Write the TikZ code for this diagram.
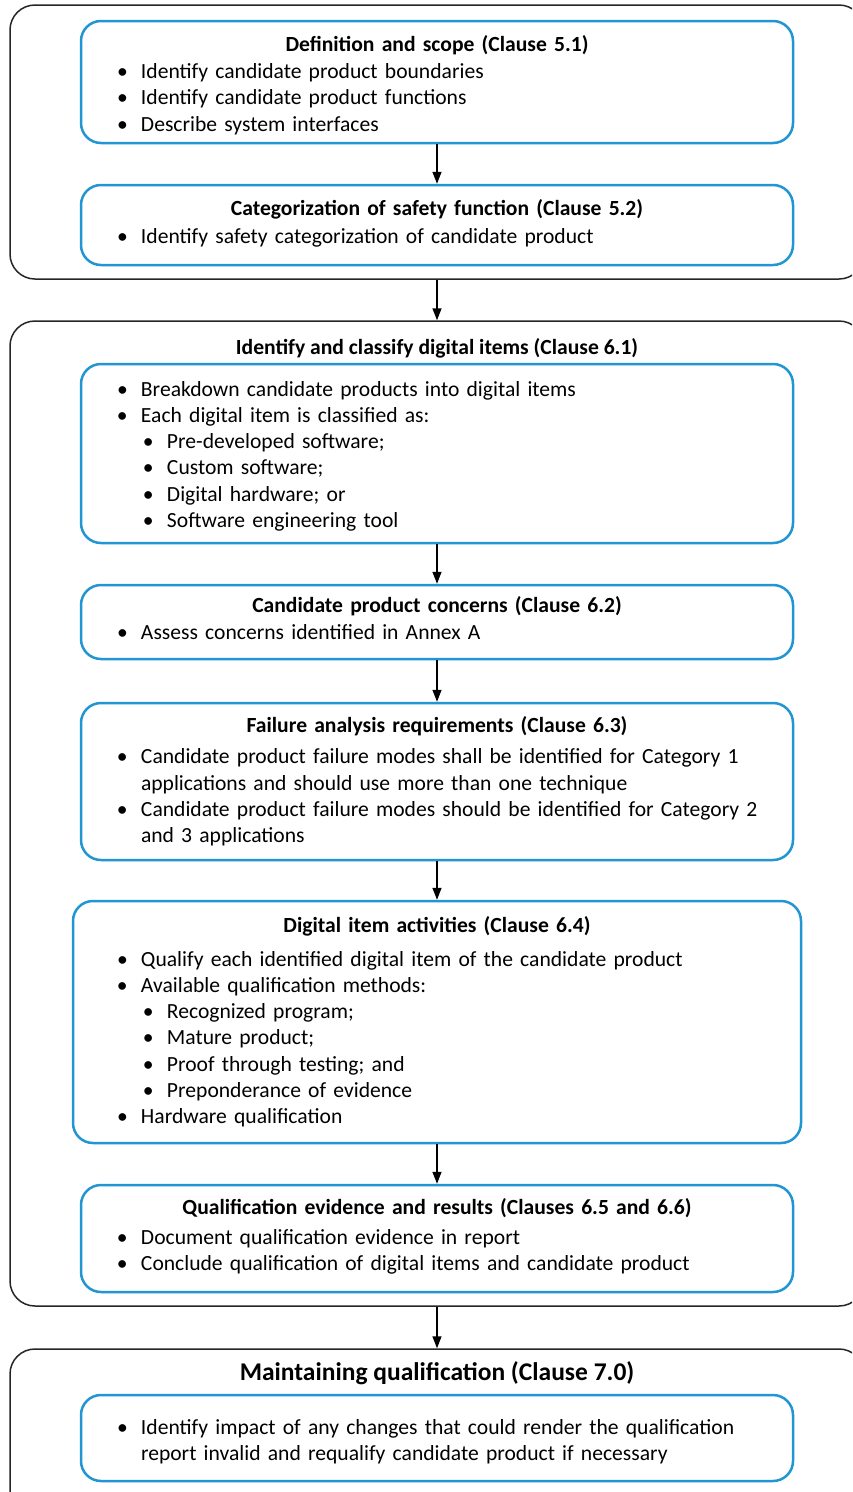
\documentclass[tikz,border=0pt]{standalone}
\usepackage{fontspec}
\setmainfont{Carlito}
\usepackage{tikz}
\usetikzlibrary{arrows.meta}
\definecolor{boxblue}{RGB}{33,150,210}
\newcommand{\itm}[1]{\par\hangindent=60pt\hangafter=1\noindent\hspace*{36pt}\makebox[24pt][l]{\textbullet}#1\par}
\newcommand{\subitm}[1]{\par\hangindent=86pt\hangafter=1\noindent\hspace*{62pt}\makebox[24pt][l]{\textbullet}#1\par}
\newcommand{\nextline}{\hfill\break}
\newcommand{\boxtitle}[1]{{\centering\bfseries #1\par}}
\newcommand{\bottomgap}[1]{\par\vspace{#1}\hrule height 0pt\relax}

\begin{document}
\begin{tikzpicture}[x=1pt,y=-1pt,
    outer/.style={draw=black!85,line width=1.5pt,rounded corners=25pt,minimum width=854pt,inner sep=0pt},
    step box/.style={draw=boxblue,line width=2.5pt,rounded corners=20pt,text width=712pt,
      inner xsep=0pt,inner ysep=0pt,font=\fontsize{21.6}{26.3}\selectfont},
    flow/.style={-{Triangle[length=12pt,width=9pt]},line width=1.5pt}]
        \useasboundingbox (0,0) rectangle (852,1492);
        \clip (0,0) rectangle (852,1492);
        \fill[white] (0,0) rectangle (852,1492);

        \node[outer,minimum height=274pt] (O1) at (437,142) {};
        \node[outer,minimum height=985pt] (O2) at (437,813.5) {};
        \node[outer,minimum height=171pt] (O3) at (437,1434.5) {};

        \node[font=\fontsize{21.6}{26.3}\selectfont\bfseries] (T2) at (437,348)
          {Identify and classify digital items (Clause 6.1)};
        \node[font=\fontsize{25.5}{30}\selectfont\bfseries] (T3) at (437,1373)
          {Maintaining qualification (Clause 7.0)};

        \node[step box,minimum height=122pt] (B1) at (437,82) {%
          \boxtitle{\rule{0pt}{22pt}Definition and scope (Clause 5.1)}
          \vspace{1pt}
          \itm{Identify candidate product boundaries}
          \itm{Identify candidate product functions}
          \itm{Describe system interfaces}};
        \node[step box,minimum height=80pt] (B2) at (437,225) {%
          \boxtitle{Categorization of safety function (Clause 5.2)}
          \vspace{2pt}
          \itm{Identify safety categorization of candidate product}
          \bottomgap{4pt}};
        \node[step box,minimum height=179pt] (B3) at (437,453.5) {%
          \itm{Breakdown candidate products into digital items}
          \itm{Each digital item is classified as:}
          \subitm{Pre-developed software;}
          \subitm{Custom software;}
          \subitm{Digital hardware; or}
          \subitm{Software engineering tool}
          \bottomgap{6pt}};
        \node[step box,minimum height=74pt] (B4) at (437,622) {%
          \boxtitle{Candidate product concerns (Clause 6.2)}
          \itm{Assess concerns identified in Annex A}
          \bottomgap{8pt}};
        \node[step box,minimum height=157pt] (B5) at (437,781.5) {%
          \boxtitle{Failure analysis requirements (Clause 6.3)}
          \vspace{5pt}
          \itm{Candidate product failure modes shall be identified for Category 1\nextline
            applications and should use more than one technique}
          \itm{Candidate product failure modes should be identified for Category 2\nextline
            and 3 applications}};
        \node[step box,minimum height=242pt,inner xsep=8pt] (B6) at (437,1022) {%
          \boxtitle{Digital item activities (Clause 6.4)}
          \vspace{7pt}
          \itm{Qualify each identified digital item of the candidate product}
          \itm{Available qualification methods:}
          \subitm{Recognized program;}
          \subitm{Mature product;}
          \subitm{Proof through testing; and}
          \subitm{Preponderance of evidence}
          \itm{Hardware qualification}};
        \node[step box,minimum height=107pt] (B7) at (437,1238.5) {%
          \boxtitle{Qualification evidence and results (Clauses 6.5 and 6.6)}
          \vspace{3pt}
          \itm{Document qualification evidence in report}
          \itm{Conclude qualification of digital items and candidate product}
          \bottomgap{4pt}};
        \node[step box,minimum height=86pt] (B8) at (437,1438) {%
          \itm{Identify impact of any changes that could render the qualification\nextline
            report invalid and requalify candidate product if necessary}
          \bottomgap{4pt}};

        \draw[flow] (B1) to (B2);
        \draw[flow] (O1) to (O2);
        \draw[flow] (B3) to (B4);
        \draw[flow] (B4) to (B5);
        \draw[flow] (B5) to (B6);
        \draw[flow] (B6) to (B7);
        \draw[flow] (O2) to (O3);
      \end{tikzpicture}
\end{document}
